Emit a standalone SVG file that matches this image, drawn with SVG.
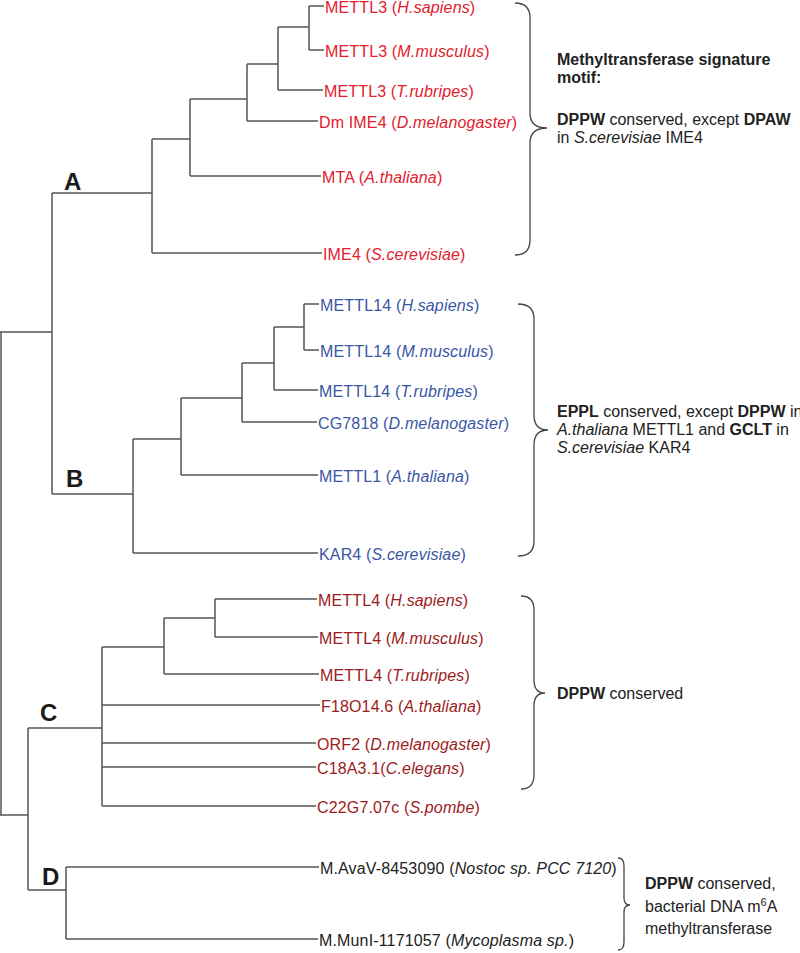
<svg xmlns="http://www.w3.org/2000/svg" width="800" height="953" viewBox="0 0 800 953">
<style>
.br{fill:none;stroke:#555;stroke-width:1.5}
.brace{fill:none;stroke:#444;stroke-width:1.3}
text{font-family:"Liberation Sans",Arial,sans-serif;font-size:16px}
.a{fill:#e3202d}
.b{fill:#3a56a6}
.c{fill:#9c1b21}
.d{fill:#222}
.n{fill:#222}
.cl{font-size:24px;font-weight:bold;fill:#1a1a1a}
.i{font-style:italic}
.bd{font-weight:bold}
.lab{letter-spacing:0.15px}
</style>
<rect width="800" height="953" fill="#fff"/>
<g id="connectors">
<path class="br" d="M0,332 H52 M1,332 V815 M0,815 H28 M52,193 V494 M28,728 V890 M28,728 H102 M28,890 H66"/>
<path class="br" d="M52,193 H152 M152,139 V253 M152,139 H190 M152,253 H322 M190,99 V176 M190,99 H247 M190,176 H321 M247,64 V121 M247,64 H278 M247,121 H318 M278,27 V90 M278,27 H309 M278,90 H323 M309,6 V50 M309,6 H324 M309,50 H324"/>
<path class="br" d="M52,494 H133 M133,439 V553 M133,439 H181 M133,553 H318 M181,398 V475 M181,398 H242 M181,475 H318 M242,363 V422 M242,363 H274 M242,422 H317 M274,327 V390 M274,327 H304 M274,390 H318 M304,304 V350 M304,304 H319 M304,350 H319"/>
<path class="br" d="M102,647 V806 M102,647 H164 M164,618 V674 M164,618 H215 M164,674 H319 M215,599 V637 M215,599 H317 M215,637 H318 M102,705 H320 M102,743 H316 M102,767 H316 M102,806 H316"/>
<path class="br" d="M66,867 V939 M66,867 H319 M66,939 H318"/>
</g>
<g id="clade-labels">
<text class="cl" x="64" y="190">A</text>
<text class="cl" x="66" y="487">B</text>
<text class="cl" x="40" y="721">C</text>
<text class="cl" x="42" y="885">D</text>
</g>
<g id="clade-A" class="a lab">
<g id="a1"><text x="325" y="13">METTL3 (<tspan class="i">H.sapiens</tspan>)</text></g>
<g id="a2"><text x="325" y="57">METTL3 (<tspan class="i">M.musculus</tspan>)</text></g>
<g id="a3"><text x="324" y="97">METTL3 (<tspan class="i">T.rubripes</tspan>)</text></g>
<g id="a4"><text x="319" y="128">Dm IME4 (<tspan class="i">D.melanogaster</tspan>)</text></g>
<g id="a5"><text x="322" y="183">MTA (<tspan class="i">A.thaliana</tspan>)</text></g>
<g id="a6"><text x="323" y="260">IME4 (<tspan class="i">S.cerevisiae</tspan>)</text></g>
</g>
<g id="clade-B" class="b lab">
<g id="b1"><text x="320" y="311">METTL14 (<tspan class="i">H.sapiens</tspan>)</text></g>
<g id="b2"><text x="320" y="357">METTL14 (<tspan class="i">M.musculus</tspan>)</text></g>
<g id="b3"><text x="319" y="397">METTL14 (<tspan class="i">T.rubripes</tspan>)</text></g>
<g id="b4"><text x="318" y="429">CG7818 (<tspan class="i">D.melanogaster</tspan>)</text></g>
<g id="b5"><text x="319" y="482">METTL1 (<tspan class="i">A.thaliana</tspan>)</text></g>
<g id="b6"><text x="319" y="560">KAR4 (<tspan class="i">S.cerevisiae</tspan>)</text></g>
</g>
<g id="clade-C" class="c lab">
<g id="c1"><text x="318" y="606">METTL4 (<tspan class="i">H.sapiens</tspan>)</text></g>
<g id="c2"><text x="319" y="644">METTL4 (<tspan class="i">M.musculus</tspan>)</text></g>
<g id="c3"><text x="320" y="681">METTL4 (<tspan class="i">T.rubripes</tspan>)</text></g>
<g id="c4"><text x="321" y="712">F18O14.6 (<tspan class="i">A.thaliana</tspan>)</text></g>
<g id="c5"><text x="317" y="750">ORF2 (<tspan class="i">D.melanogaster</tspan>)</text></g>
<g id="c6"><text x="317" y="774">C18A3.1(<tspan class="i">C.elegans</tspan>)</text></g>
<g id="c7"><text x="317" y="813">C22G7.07c (<tspan class="i">S.pombe</tspan>)</text></g>
</g>
<g id="clade-D" class="d lab">
<g id="d1"><text x="320" y="874">M.AvaV-8453090 (<tspan class="i">Nostoc sp. PCC 7120</tspan>)</text></g>
<g id="d2"><text x="319" y="946">M.MunI-1171057 (<tspan class="i">Mycoplasma sp.</tspan>)</text></g>
</g>
<g id="braces">
<path class="brace" d="M515,3 Q530,3 530,18 L530,113 Q530,128 547,128 Q530,128 530,143 L530,240 Q530,255 515,255"/>
<path class="brace" d="M518,304 Q534,304 534,319 L534,415 Q534,430 548,430 Q534,430 534,445 L534,541 Q534,556 518,556"/>
<path class="brace" d="M521,596 Q534,596 534,610 L534,680 Q534,693 545,693 Q534,693 534,706 L534,775 Q534,789 521,789"/>
<path class="brace" d="M618,858 Q624,858 624,866 L624,898 Q624,905 630,905 Q624,905 624,912 L624,942 Q624,950 618,950"/>
</g>
<g id="note-A" class="n">
<text x="557" y="65" class="bd">Methyltransferase signature</text>
<text x="557" y="83" class="bd">motif:</text>
<text x="557" y="125"><tspan class="bd">DPPW</tspan> conserved, except <tspan class="bd">DPAW</tspan></text>
<text x="557" y="143">in <tspan class="i">S.cerevisiae</tspan> IME4</text>
</g>
<g id="note-B" class="n">
<text x="557" y="417"><tspan class="bd">EPPL</tspan> conserved, except <tspan class="bd">DPPW</tspan> in</text>
<text x="557" y="435"><tspan class="i">A.thaliana</tspan> METTL1 and <tspan class="bd">GCLT</tspan> in</text>
<text x="557" y="453"><tspan class="i">S.cerevisiae</tspan> KAR4</text>
</g>
<g id="note-C" class="n">
<text x="557" y="699"><tspan class="bd">DPPW</tspan> conserved</text>
</g>
<g id="note-D" class="n">
<text x="645" y="889"><tspan class="bd">DPPW</tspan> conserved,</text>
<text x="645" y="912">bacterial DNA m<tspan font-size="11" dy="-6">6</tspan><tspan dy="6">A</tspan></text>
<text x="645" y="934">methyltransferase</text>
</g>
</svg>
